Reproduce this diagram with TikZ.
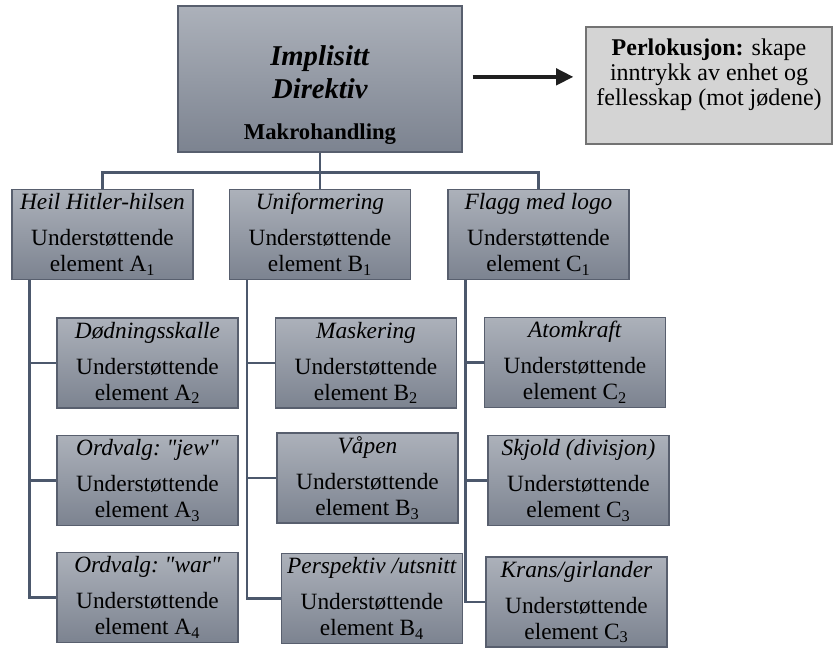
\documentclass[tikz,border=0pt]{standalone}
\usepackage{fontspec}
\setmainfont{Liberation Serif}
\usetikzlibrary{arrows.meta}
\definecolor{boxtop}{RGB}{172,177,186}
\definecolor{boxbot}{RGB}{124,131,144}
\definecolor{boxline}{RGB}{88,95,110}
\definecolor{linkcol}{RGB}{76,88,108}
\definecolor{perlfill}{RGB}{212,212,212}
\tikzset{
  elem/.style={draw=boxline, line width=0.8pt, top color=boxtop, bottom color=boxbot,
    minimum width=135.75pt, minimum height=67.5pt, inner sep=0pt, align=center,
    font=\frenchspacing\fontsize{17.5}{19.5}\selectfont},
  mainbox/.style={elem, minimum width=213pt, minimum height=109.5pt},
  perlbox/.style={draw=black!55, line width=0.8pt, fill=perlfill, minimum width=184.5pt,
    minimum height=87.75pt, inner sep=0pt},
  link/.style={draw=linkcol, line width=1.6pt},
  bigarrow/.style={line width=3.5pt, black!88, -{Triangle[length=13pt,width=12pt]}}
}
\newcommand{\stotte}[3]{\textit{#1}\\[7.5pt]Understøttende\\element #2\textsubscript{#3}}
\begin{document}
\begin{tikzpicture}[x=0.75pt,y=-0.75pt]
  \useasboundingbox (0,0) rectangle (833,648);
  % top
  \node[mainbox, label={[align=center, yshift=-12pt, font=\fontsize{21.5}{24.75}\selectfont]center:{\textbf{\textit{Implisitt}}\\\textbf{\textit{Direktiv}}\\[6pt]{\fontsize{17}{19.5}\selectfont\textbf{Makrohandling}}}}] (mac) at (320,79) {};
  \node[perlbox, label={[align=center, yshift=8pt, font=\fontsize{18}{18.75}\selectfont]center:{\textbf{Perlokusjon:} skape\\inntrykk av enhet og\\fellesskap (mot jødene)}}] (perl) at (709,85.5) {};
  \draw[bigarrow, shorten <=7.5pt, shorten >=9pt] (mac.east |- perl.176) -- (perl.176);
  % first level
  \node[elem] (A1) at (102.5,234.5) {\stotte{Heil Hitler-hilsen}{A}{1}};
  \node[elem] (B1) at (320,234.5) {\stotte{Uniformering}{B}{1}};
  \node[elem] (C1) at (538.5,234.5) {\stotte{Flagg med logo}{C}{1}};
  % second level
  \node[elem] (A2) at (147.5,363) {\stotte{Dødningsskalle}{A}{2}};
  \node[elem] (A3) at (147.5,480.5) {\stotte{Ordvalg: \textquotedbl jew\textquotedbl}{A}{3}};
  \node[elem] (A4) at (147.5,597.5) {\stotte{Ordvalg: \textquotedbl war\textquotedbl}{A}{4}};
  \node[elem] (B2) at (366,363) {\stotte{Maskering}{B}{2}};
  \node[elem] (B3) at (367.5,478) {\stotte{Våpen}{B}{3}};
  \node[elem] (B4) at (372,598.5) {\stotte{Perspektiv /utsnitt}{B}{4}};
  \node[elem] (C2) at (575,362.5) {\stotte{Atomkraft}{C}{2}};
  \node[elem] (C3) at (578.5,480.5) {\stotte{Skjold (divisjon)}{C}{3}};
  \node[elem] (C4) at (576.5,602) {\stotte{Krans/girlander}{C}{3}};
  % connectors
  \coordinate (bus) at ([yshift=-15pt]mac.south);
  \draw[link] (mac) -- (B1);
  \draw[link] (A1.north) |- (bus) -| (C1.north);
  \foreach \c in {A,B,C}{
    \coordinate (trunk\c) at ([xshift=13.5pt]\c1.south west);
    \draw[link] (trunk\c) |- (\c4.west);
    \foreach \i in {2,3}
      \draw[link] (trunk\c |- \c\i.west) -- (\c\i.west);
  }
\end{tikzpicture}
\end{document}
